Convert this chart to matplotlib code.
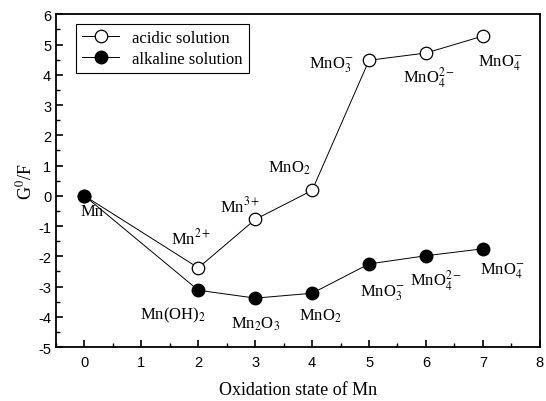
import matplotlib
matplotlib.use('Agg')
import matplotlib.pyplot as plt
from matplotlib.ticker import MultipleLocator

plt.rcParams['axes.unicode_minus'] = False
plt.rcParams['mathtext.fontset'] = 'stix'

# oxidation states and G0/F values
ox_acid = [0, 2, 3, 4, 5, 6, 7]
g_acid = [0, -2.38, -0.78, 0.18, 4.48, 4.72, 5.28]
ox_alk = [0, 2, 3, 4, 5, 6, 7]
g_alk = [0, -3.12, -3.38, -3.22, -2.25, -1.98, -1.75]

# species labels (text, x, baseline y)
acid_labels = [
    ('Mn', 0.13, -0.63),
    ('Mn$^{2+}$', 1.88, -1.56),
    ('Mn$^{3+}$', 2.74, -0.53),
    ('MnO$_2$', 3.6, 0.8),
    ('MnO$_3^{-}$', 4.34, 4.26),
    ('MnO$_4^{2-}$', 6.05, 3.76),
    ('MnO$_4^{-}$', 7.3, 4.32),
]
alk_labels = [
    ('Mn(OH)$_2$', 1.55, -4.05),
    ('Mn$_2$O$_3$', 3.0, -4.37),
    ('MnO$_2$', 4.15, -4.1),
    ('MnO$_3^{-}$', 5.23, -3.27),
    ('MnO$_4^{2-}$', 6.18, -2.94),
    ('MnO$_4^{-}$', 7.35, -2.55),
]

serif = 'Liberation Serif'
sans = 'Liberation Sans'

fig = plt.figure(figsize=(5.46, 4.02), dpi=100)
ax = fig.add_axes([0.1026, 0.134, 0.886, 0.828])

ax.plot(ox_acid, g_acid, '-o', color='black', lw=0.7, ms=9,
        mfc='white', mec='black', mew=0.9, label='acidic solution')
ax.plot(ox_alk, g_alk, '-o', color='black', lw=0.7, ms=9,
        mfc='black', mec='black', label='alkaline solution')

for txt, x, y in acid_labels + alk_labels:
    ax.text(x, y, txt, ha='center', va='baseline', fontsize=12,
            family=serif)

ax.set_xlim(-0.5, 8)
ax.set_ylim(-5, 6)
ax.xaxis.set_major_locator(MultipleLocator(1))
ax.xaxis.set_minor_locator(MultipleLocator(0.5))
ax.yaxis.set_major_locator(MultipleLocator(1))
ax.yaxis.set_minor_locator(MultipleLocator(0.5))
ax.tick_params(which='both', direction='in', top=False, right=False)
ax.tick_params(which='major', length=5, width=1.2, labelsize=10.5)
ax.tick_params(which='minor', length=3, width=1.0)
ax.tick_params(axis='x', which='major', pad=6)
for lab in ax.get_xticklabels() + ax.get_yticklabels():
    lab.set_family(sans)
for s in ax.spines.values():
    s.set_linewidth(1.3)

ax.set_xlabel('Oxidation state of Mn', family=serif, fontsize=13,
              labelpad=8)
ax.set_ylabel('G$^0$/F', family=serif, fontsize=13, labelpad=2)

leg = ax.legend(loc='upper left', bbox_to_anchor=(0.025, 0.995),
                prop={'family': serif, 'size': 12}, fancybox=False,
                framealpha=1, edgecolor='black', handlelength=2.2,
                borderpad=0.35, labelspacing=0.3)
leg.get_frame().set_linewidth(0.8)

fig.savefig('out.png', dpi=100)
